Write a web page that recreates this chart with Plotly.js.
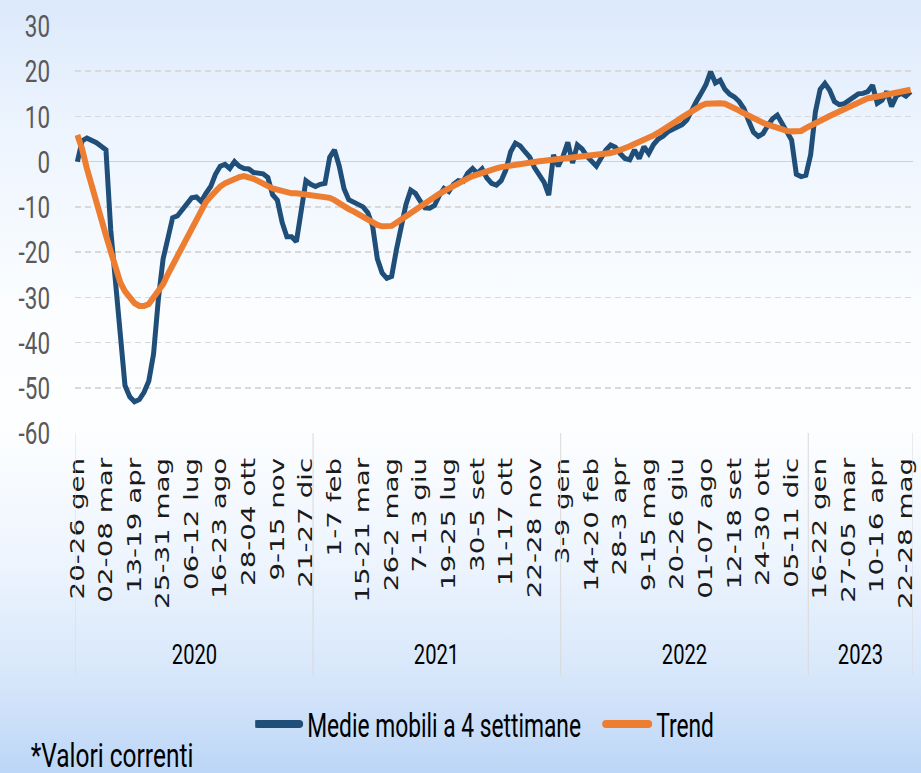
<!DOCTYPE html>
<html>
<head>
<meta charset="utf-8">
<script src="https://cdn.plot.ly/plotly-3.0.1.min.js"></script>
<style>
  html, body { margin: 0; padding: 0; }
  body {
    width: 921px; height: 773px; overflow: hidden;
    background: linear-gradient(to bottom, #dce9fb 0%, #eef5fe 18%, #fbfdff 40%, #fdfeff 55%, #eef5fe 72%, #d6e6fa 88%, #bcd6f7 100%);
  }
  #chart { width: 921px; height: 773px; }
</style>
</head>
<body>
<div id="chart"></div>
<script>
// Week tick labels (one every 6 weeks)
const tickLabels = [
  "20-26 gen","02-08 mar","13-19 apr","25-31 mag","06-12 lug","16-23 ago","28-04 ott","9-15 nov","21-27 dic",
  "1-7 feb","15-21 mar","26-2 mag","7-13 giu","19-25 lug","30-5 set","11-17 ott","22-28 nov",
  "3-9 gen","14-20 feb","28-3 apr","9-15 mag","20-26 giu","01-07 ago","12-18 set","24-30 ott","05-11 dic",
  "16-22 gen","27-05 mar","10-16 apr","22-28 mag"
];
const tickStep = 6;

// Years and the week index where each year starts
const years = ["2020","2021","2022","2023"];
const yearStart = [0, 50, 102, 154];

// Medie mobili a 4 settimane (weekly)
const medieMobili = [
  0, 4.6, 5.2, 4.8, 4.2, 3.4, 2.6, -15, -27, -40,
  -49.5, -52, -53.1, -52.6, -51, -48.5, -42.5, -30.5, -21.5, -17,
  -12.4, -12, -10.6, -9, -8, -7.8, -8.8, -7, -5.5, -2.8,
  -1, -0.6, -1.5, 0, -1, -1.5, -1.6, -2.4, -2.6, -2.7,
  -3.5, -7.3, -8.5, -13.4, -16.6, -16.6, -17.7, -11.5, -4.2, -5,
  -5.5, -5, -4.8, 1, 2.6, -1, -6, -8.4, -9, -9.5,
  -10, -11.3, -14.2, -21.5, -24.6, -25.8, -25.4, -19.5, -14.5, -9.5,
  -6.3, -7, -8.7, -10.2, -10.3, -9.7, -7.5, -5.9, -6.6, -5,
  -4.2, -4.4, -2.5, -1.5, -2.6, -1.6, -3.6, -4.8, -5.2, -4.2,
  -1.8, 2.2, 4.1, 3.5, 2.2, 1, -1.3, -2.8, -4.5, -7.4,
  1.5, -1, 1.2, 4.3, -0.3, 3.7, 2.8, 1.2, 0.2, -1,
  0.8, 2.6, 3.7, 3.2, 1.8, 0.7, 0.4, 2.6, 0.7, 3.3,
  1.8, 3.8, 5, 5.6, 6.6, 7.2, 7.8, 8.2, 9.2, 11.4,
  13.3, 15.1, 17, 19.9, 17.4, 18, 16, 14.9, 14.3, 13.3,
  11.7, 9, 6.5, 5.6, 6.2, 8, 9.5, 10.3, 8.5, 6.6,
  4.8, -2.8, -3.3, -3, 1.5, 11, 16, 17.3, 15.8, 13.3,
  12.6, 12.8, 13.6, 14.5, 15, 15.1, 15.5, 16.9, 12.9, 13.6,
  15.5, 12.2, 14.5, 15.1, 14.5, 15.5
];

// Trend (weekly)
const trend = [
  5.9, 2.8, -1.5, -5.5, -9.5, -12.8, -16.3, -19.8, -23.8, -26.7,
  -28.7, -30.2, -31.3, -31.9, -31.9, -31.5, -30, -28.6, -27.1, -24.9,
  -22.9, -20.6, -18.6, -16.4, -14.3, -12.2, -10.4, -8.9, -7.7, -6.5,
  -5.5, -4.8, -4.3, -3.8, -3.4, -3.2, -3.4, -3.8, -4.3, -4.9,
  -5.5, -5.9, -6.2, -6.5, -6.8, -7, -7, -7.1, -7.3, -7.4,
  -7.5, -7.6, -7.7, -8, -8.5, -9.3, -10, -10.5, -11, -11.6,
  -12.3, -13, -13.6, -14, -14.3, -14.4, -14.2, -13.5, -12.8, -12,
  -11.2, -10.3, -9.8, -9.1, -8.4, -7.8, -7.1, -6.5, -5.9, -5.2,
  -4.8, -4.2, -3.7, -3.2, -2.8, -2.4, -2.1, -1.8, -1.5, -1.2,
  -1, -0.8, -0.6, -0.5, -0.3, -0.2, 0, 0.1, 0.2, 0.3,
  0.4, 0.5, 0.6, 0.7, 0.8, 0.9, 1, 1.1, 1.2, 1.3,
  1.4, 1.6, 1.9, 2.2, 2.5, 2.9, 3.4, 3.9, 4.3, 4.8,
  5.3, 5.8, 6.4, 7, 7.6, 8.3, 9.1, 9.8, 10.5, 11.2,
  11.9, 12.4, 12.8, 12.9, 12.9, 12.9, 12.8, 12.4, 11.9, 11.3,
  10.7, 10.1, 9.6, 9.1, 8.6, 8.2, 7.8, 7.4, 7.1, 6.8,
  6.7, 6.7, 6.8, 7.4, 8, 8.5, 9.1, 9.6, 10.1, 10.6,
  11.1, 11.6, 12.1, 12.6, 13.1, 13.6, 14, 14.2, 14.4, 14.6,
  14.9, 15.1, 15.4, 15.6, 15.8, 15.9
];

const yTicks = [-60, -50, -40, -30, -20, -10, 0, 10, 20, 30];

const nWeeks = medieMobili.length;
const xIdx = medieMobili.map((_, i) => i);
const sans = "Roboto, sans-serif";

const traces = [
  { x: xIdx, y: medieMobili, type: "scatter", mode: "lines", name: "Medie mobili a 4 settimane",
    line: { color: "#1f4e79", width: 5 } },
  { x: xIdx, y: trend, type: "scatter", mode: "lines", name: "Trend",
    line: { color: "#ed7d31", width: 6 } }
];

// Year separators and labels
const bounds = yearStart.concat([nWeeks]);
const shapes = bounds.map(b => ({
  type: "line", xref: "x", yref: "paper", x0: b - 0.5, x1: b - 0.5, y0: 0, y1: -0.595,
  line: { color: "#d9d9d9", width: 1 }
}));
const annotations = years.map((yr, k) => ({
  text: yr, xref: "x", yref: "paper", x: (bounds[k] + bounds[k + 1]) / 2 - 0.5, y: -0.545,
  showarrow: false, xanchor: "center", yanchor: "middle",
  font: { family: sans, size: 28, color: "#000000" }
}));
annotations.push({
  text: "*Valori correnti", xref: "paper", yref: "paper", x: 0.0447, y: -0.792,
  showarrow: false, xanchor: "center", yanchor: "middle",
  font: { family: sans, size: 34, color: "#000000" }
});

const layout = {
  width: 921, height: 773,
  margin: { l: 75, r: 8, t: 26, b: 340, autoexpand: false },
  paper_bgcolor: "rgba(0,0,0,0)",
  plot_bgcolor: "rgba(0,0,0,0)",
  showlegend: true,
  legend: {
    orientation: "h", x: 0.215, xanchor: "left", y: -0.715, yanchor: "middle",
    font: { family: sans, size: 33, color: "#000000" },
    bgcolor: "rgba(0,0,0,0)", entrywidth: 304, entrywidthmode: "pixels"
  },
  xaxis: {
    range: [-0.5, nWeeks - 0.5],
    tickmode: "array",
    tickvals: tickLabels.map((_, k) => k * tickStep),
    ticktext: tickLabels,
    tickangle: -90,
    ticks: "", ticklabelstandoff: 20,
    tickfont: { family: "DejaVu Sans", size: 19, color: "#1a1a1a" },
    showgrid: false, zeroline: false, showline: false, automargin: false
  },
  yaxis: {
    range: [-60, 30],
    tickmode: "array",
    tickvals: yTicks,
    ticktext: yTicks.map(v => String(v)),
    ticks: "", ticklabelstandoff: 24,
    tickfont: { family: sans, size: 32, color: "#595959" },
    showgrid: true, gridcolor: "#d9d9d9", gridwidth: 1.5, griddash: "6px,4px",
    zeroline: true, zerolinecolor: "#d0d0d0", zerolinewidth: 1.5,
    showline: false, automargin: false
  },
  shapes: shapes,
  annotations: annotations
};

// Reproduce the condensed look of the original text (glyphs squeezed / stretched along the text)
function fitText(selector, factor) {
  document.querySelectorAll(selector).forEach(t => {
    const len = t.getComputedTextLength();
    if (len > 0) {
      t.setAttribute("textLength", (len * factor).toFixed(1));
      t.setAttribute("lengthAdjust", "spacingAndGlyphs");
    }
  });
}

Plotly.newPlot("chart", traces, layout, { displayModeBar: false, staticPlot: true }).then(() => {
  fitText(".ytick text", 0.7);
  fitText(".xtick text", 1.46);
  fitText(".legend text.legendtext", 0.69);
  fitText(".annotation text", 0.72);
  // Longer, thicker, round-capped legend swatches as in the original
  document.querySelectorAll(".legend .traces").forEach(g => {
    const p = g.querySelector(".legendlines path");
    if (p) {
      p.setAttribute("d", "M2,0h42");
      p.style.strokeWidth = "8px";
      p.style.strokeLinecap = "round";
    }
    const t = g.querySelector("text.legendtext");
    if (t) t.setAttribute("x", 52);
  });
});
</script>
</body>
</html>
